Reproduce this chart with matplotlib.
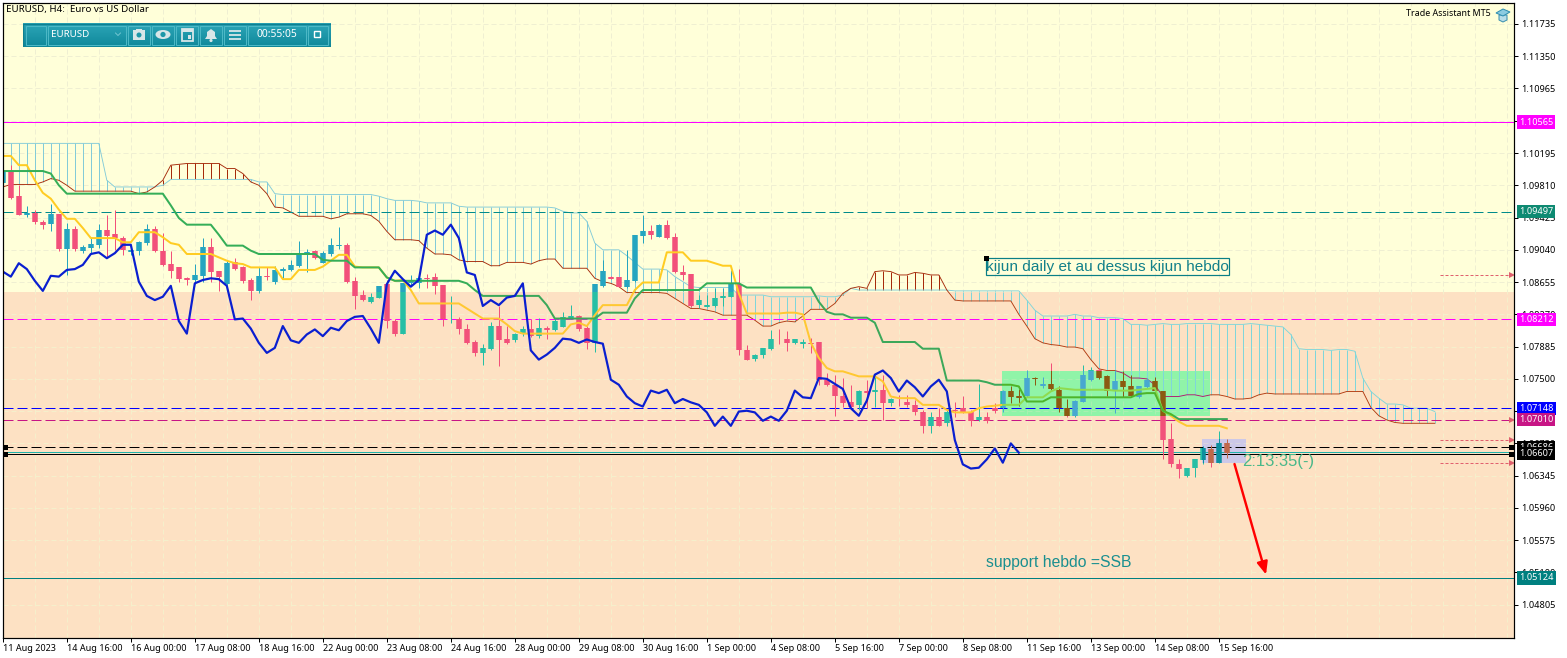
import matplotlib
matplotlib.use('Agg')
import numpy as np
import matplotlib.pyplot as plt
from matplotlib.patches import Rectangle, Circle, Ellipse, Polygon
from matplotlib.transforms import Affine2D, blended_transform_factory

# candles, one per 4h bar
open_ = [1.0984,1.0997,1.0968,1.0945,1.0948,1.0937,1.0935,1.0947,1.0905,1.0929,
         1.0903,1.0906,1.0910,1.0928,1.0923,1.0918,1.0901,1.0903,1.0912,1.0929,
         1.0903,1.0887,1.0883,1.0870,1.0868,1.0873,1.0907,1.0879,1.0863,1.0890,
         1.0883,1.0868,1.0855,1.0873,1.0865,1.0879,1.0880,1.0885,1.0899,1.0903,
         1.0888,1.0899,1.0909,1.0910,1.0867,1.0850,1.0842,1.0847,1.0863,1.0819,
         1.0804,1.0864,1.0864,1.0870,1.0871,1.0862,1.0821,1.0821,1.0809,1.0794,
         1.0781,1.0786,1.0813,1.0797,1.0796,1.0803,1.0809,1.0801,1.0811,1.0808,
         1.0812,1.0822,1.0825,1.0811,1.0793,1.0861,1.0872,1.0871,1.0860,1.0867,
         1.0921,1.0927,1.0919,1.0934,1.0919,1.0878,1.0875,1.0838,1.0836,1.0837,
         1.0846,1.0848,1.0863,1.0785,1.0774,1.0778,1.0786,1.0798,1.0798,1.0793,
         1.0792,1.0793,1.0794,1.0749,1.0743,1.0730,1.0722,1.0719,1.0736,1.0734,
         1.0737,1.0721,1.0723,1.0723,1.0719,1.0711,1.0694,1.0705,1.0697,1.0713,
         1.0715,1.0710,1.0701,1.0705,1.0715,1.0715,1.0736,1.0729,1.0729,1.0751,
         1.0741,1.0744,1.0737,1.0715,1.0706,1.0723,1.0749,1.0760,1.0753,1.0737,
         1.0748,1.0741,1.0728,1.0740,1.0748,1.0735,1.0678,1.0649,1.0634,1.0644,
         1.0653,1.0666,1.0650,1.0673]
close = [1.0997,1.0966,1.0946,1.0948,1.0937,1.0934,1.0947,1.0905,1.0929,1.0905,
         1.0907,1.0911,1.0928,1.0921,1.0918,1.0904,1.0904,1.0913,1.0929,1.0902,
         1.0886,1.0879,1.0869,1.0868,1.0874,1.0907,1.0878,1.0872,1.0888,1.0881,
         1.0867,1.0855,1.0873,1.0872,1.0880,1.0881,1.0886,1.0899,1.0901,1.0894,
         1.0900,1.0910,1.0910,1.0866,1.0849,1.0844,1.0848,1.0861,1.0819,1.0804,
         1.0864,1.0868,1.0870,1.0869,1.0861,1.0821,1.0822,1.0810,1.0793,1.0781,
         1.0787,1.0813,1.0796,1.0793,1.0803,1.0809,1.0801,1.0811,1.0808,1.0819,
         1.0824,1.0825,1.0810,1.0793,1.0863,1.0879,1.0869,1.0860,1.0868,1.0922,
         1.0927,1.0922,1.0934,1.0918,1.0877,1.0874,1.0837,1.0844,1.0838,1.0847,
         1.0849,1.0864,1.0784,1.0773,1.0779,1.0787,1.0798,1.0797,1.0793,1.0797,
         1.0794,1.0792,1.0749,1.0743,1.0729,1.0721,1.0717,1.0736,1.0733,1.0737,
         1.0721,1.0726,1.0722,1.0719,1.0710,1.0694,1.0705,1.0694,1.0711,1.0712,
         1.0710,1.0700,1.0705,1.0700,1.0712,1.0736,1.0728,1.0727,1.0751,1.0750,
         1.0744,1.0738,1.0715,1.0706,1.0724,1.0755,1.0760,1.0751,1.0735,1.0748,
         1.0740,1.0729,1.0741,1.0749,1.0735,1.0677,1.0648,1.0643,1.0644,1.0654,
         1.0667,1.0650,1.0673,1.0662]
high = [1.0999,1.1005,1.0981,1.0956,1.0951,1.0940,1.0959,1.0947,1.0936,1.0932,
        1.0910,1.0918,1.0935,1.0946,1.0952,1.0920,1.0910,1.0914,1.0935,1.0932,
        1.0924,1.0902,1.0884,1.0872,1.0887,1.0918,1.0918,1.0879,1.0892,1.0894,
        1.0885,1.0870,1.0883,1.0884,1.0885,1.0884,1.0892,1.0915,1.0905,1.0904,
        1.0902,1.0918,1.0931,1.0912,1.0872,1.0856,1.0853,1.0861,1.0868,1.0821,
        1.0864,1.0874,1.0870,1.0875,1.0876,1.0862,1.0849,1.0824,1.0816,1.0796,
        1.0792,1.0818,1.0837,1.0813,1.0805,1.0813,1.0821,1.0823,1.0813,1.0823,
        1.0830,1.0838,1.0826,1.0813,1.0863,1.0892,1.0873,1.0871,1.0904,1.0922,
        1.0946,1.0934,1.0935,1.0940,1.0924,1.0886,1.0875,1.0850,1.0850,1.0859,
        1.0858,1.0880,1.0881,1.0790,1.0780,1.0787,1.0808,1.0809,1.0807,1.0798,
        1.0797,1.0799,1.0794,1.0757,1.0755,1.0751,1.0743,1.0737,1.0749,1.0755,
        1.0755,1.0727,1.0731,1.0731,1.0725,1.0713,1.0710,1.0715,1.0714,1.0723,
        1.0729,1.0713,1.0744,1.0710,1.0721,1.0737,1.0741,1.0738,1.0760,1.0752,
        1.0752,1.0769,1.0742,1.0726,1.0725,1.0766,1.0764,1.0763,1.0755,1.0760,
        1.0759,1.0755,1.0742,1.0751,1.0752,1.0735,1.0697,1.0654,1.0644,1.0654,
        1.0670,1.0671,1.0688,1.0678]
low = [1.0983,1.0965,1.0946,1.0943,1.0935,1.0929,1.0926,1.0902,1.0874,1.0902,
       1.0900,1.0900,1.0906,1.0896,1.0904,1.0898,1.0898,1.0898,1.0910,1.0901,
       1.0885,1.0870,1.0866,1.0862,1.0863,1.0866,1.0866,1.0855,1.0862,1.0880,
       1.0864,1.0844,1.0852,1.0868,1.0863,1.0870,1.0879,1.0884,1.0878,1.0893,
       1.0888,1.0897,1.0905,1.0864,1.0833,1.0843,1.0841,1.0846,1.0811,1.0801,
       1.0804,1.0862,1.0858,1.0858,1.0851,1.0813,1.0817,1.0804,1.0792,1.0777,
       1.0766,1.0785,1.0765,1.0792,1.0794,1.0801,1.0800,1.0799,1.0798,1.0807,
       1.0812,1.0821,1.0807,1.0786,1.0782,1.0860,1.0869,1.0860,1.0858,1.0866,
       1.0912,1.0917,1.0919,1.0917,1.0876,1.0868,1.0836,1.0835,1.0836,1.0836,
       1.0837,1.0848,1.0779,1.0772,1.0771,1.0775,1.0785,1.0792,1.0783,1.0792,
       1.0787,1.0781,1.0743,1.0742,1.0706,1.0717,1.0715,1.0713,1.0715,1.0717,
       1.0701,1.0718,1.0718,1.0717,1.0707,1.0686,1.0686,1.0694,1.0694,1.0705,
       1.0709,1.0694,1.0700,1.0697,1.0709,1.0711,1.0721,1.0718,1.0728,1.0743,
       1.0739,1.0737,1.0711,1.0705,1.0705,1.0722,1.0748,1.0750,1.0730,1.0709,
       1.0728,1.0728,1.0727,1.0739,1.0734,1.0654,1.0645,1.0632,1.0633,1.0633,
       1.0648,1.0645,1.0650,1.0656]

# ichimoku lines
kijun = [1.0998,1.0998,1.0998,1.0998,1.0998,1.0998,1.0995,1.0981,1.0971,1.0971,
         1.0971,1.0971,1.0971,1.0971,1.0971,1.0971,1.0971,1.0971,1.0971,1.0971,
         1.0971,1.0957,1.0942,1.0934,1.0934,1.0934,1.0934,1.0922,1.0909,1.0909,
         1.0909,1.0903,1.0899,1.0899,1.0899,1.0899,1.0899,1.0899,1.0899,1.0899,
         1.0892,1.0891,1.0891,1.0891,1.0883,1.0883,1.0883,1.0883,1.0871,1.0867,
         1.0867,1.0867,1.0867,1.0867,1.0867,1.0867,1.0867,1.0867,1.0864,1.0856,
         1.0849,1.0849,1.0849,1.0849,1.0849,1.0849,1.0849,1.0849,1.0838,1.0822,
         1.0822,1.0822,1.0822,1.0822,1.0822,1.0829,1.0829,1.0829,1.0829,1.0846,
         1.0856,1.0856,1.0856,1.0856,1.0856,1.0856,1.0856,1.0856,1.0864,1.0864,
         1.0864,1.0864,1.0864,1.0859,1.0859,1.0859,1.0859,1.0859,1.0859,1.0859,
         1.0859,1.0859,1.0842,1.0830,1.0827,1.0827,1.0823,1.0823,1.0823,1.0817,
         1.0794,1.0794,1.0794,1.0794,1.0794,1.0786,1.0786,1.0786,1.0748,1.0748,
         1.0748,1.0748,1.0748,1.0746,1.0743,1.0743,1.0743,1.0741,1.0723,1.0723,
         1.0723,1.0728,1.0728,1.0728,1.0728,1.0728,1.0728,1.0728,1.0728,1.0728,
         1.0728,1.0728,1.0732,1.0733,1.0733,1.0712,1.0708,1.0702,1.0702,1.0702,
         1.0702,1.0702,1.0702,1.0702]
tenkan = [1.1016,1.1016,1.1005,1.1005,1.0987,1.0972,1.0965,1.0952,1.0941,1.0941,
          1.0930,1.0918,1.0918,1.0918,1.0918,1.0913,1.0913,1.0925,1.0925,1.0925,
          1.0919,1.0912,1.0910,1.0899,1.0899,1.0899,1.0899,1.0895,1.0891,1.0888,
          1.0887,1.0883,1.0883,1.0883,1.0883,1.0869,1.0869,1.0880,1.0880,1.0880,
          1.0884,1.0891,1.0898,1.0898,1.0884,1.0883,1.0883,1.0883,1.0871,1.0867,
          1.0868,1.0856,1.0840,1.0840,1.0840,1.0840,1.0840,1.0840,1.0834,1.0828,
          1.0822,1.0822,1.0822,1.0815,1.0807,1.0804,1.0804,1.0804,1.0804,1.0804,
          1.0804,1.0815,1.0817,1.0813,1.0826,1.0838,1.0838,1.0838,1.0838,1.0856,
          1.0865,1.0865,1.0865,1.0901,1.0901,1.0901,1.0891,1.0891,1.0891,1.0888,
          1.0885,1.0885,1.0852,1.0828,1.0828,1.0828,1.0828,1.0828,1.0829,1.0829,
          1.0827,1.0793,1.0775,1.0763,1.0759,1.0759,1.0756,1.0753,1.0753,1.0753,
          1.0747,1.0729,1.0727,1.0727,1.0727,1.0719,1.0719,1.0719,1.0713,1.0710,
          1.0710,1.0710,1.0715,1.0717,1.0718,1.0719,1.0719,1.0719,1.0728,1.0728,
          1.0728,1.0735,1.0739,1.0738,1.0737,1.0737,1.0737,1.0737,1.0737,1.0736,
          1.0736,1.0736,1.0737,1.0738,1.0739,1.0712,1.0706,1.0699,1.0694,1.0694,
          1.0694,1.0694,1.0694,1.0691]
span_a = [1.1031,1.1031,1.1031,1.1031,1.1031,1.1031,1.1031,1.1031,1.1031,1.1031,
          1.1031,1.1031,1.1031,1.0987,1.0979,1.0979,1.0979,1.0979,1.0979,1.0979,
          1.0981,1.0988,1.0988,1.0988,1.0988,1.0988,1.0988,1.0988,1.0988,1.0988,
          1.0988,1.0988,1.0985,1.0985,1.0971,1.0970,1.0970,1.0970,1.0970,1.0970,
          1.0970,1.0970,1.0970,1.0970,1.0970,1.0970,1.0970,1.0968,1.0965,1.0963,
          1.0963,1.0963,1.0962,1.0960,1.0960,1.0960,1.0960,1.0956,1.0955,1.0955,
          1.0955,1.0955,1.0955,1.0955,1.0955,1.0955,1.0955,1.0955,1.0955,1.0954,
          1.0950,1.0948,1.0948,1.0938,1.0912,1.0904,1.0904,1.0904,1.0897,1.0889,
          1.0881,1.0881,1.0881,1.0880,1.0872,1.0866,1.0860,1.0859,1.0859,1.0859,
          1.0859,1.0859,1.0850,1.0850,1.0850,1.0850,1.0848,1.0848,1.0848,1.0848,
          1.0848,1.0848,1.0849,1.0848,1.0848,1.0850,1.0858,1.0856,1.0856,1.0856,
          1.0856,1.0856,1.0856,1.0856,1.0856,1.0856,1.0856,1.0856,1.0856,1.0855,
          1.0855,1.0855,1.0855,1.0855,1.0855,1.0855,1.0855,1.0855,1.0844,1.0832,
          1.0825,1.0825,1.0825,1.0825,1.0827,1.0825,1.0825,1.0823,1.0823,1.0823,
          1.0822,1.0815,1.0815,1.0814,1.0815,1.0816,1.0815,1.0815,1.0816,1.0816,
          1.0816,1.0816,1.0815,1.0815,1.0815,1.0815,1.0816,1.0815,1.0814,1.0813,
          1.0812,1.0803,1.0786,1.0785,1.0785,1.0785,1.0784,1.0785,1.0785,1.0783,
          1.0751,1.0735,1.0727,1.0720,1.0720,1.0719,1.0715,1.0715,1.0715,1.0711]
span_b = [1.0979,1.0982,1.0982,1.0982,1.0982,1.0985,1.0989,1.0987,1.0981,1.0974,
          1.0974,1.0974,1.0974,1.0974,1.0974,1.0974,1.0974,1.0971,1.0973,1.0979,
          1.0987,1.1005,1.1006,1.1007,1.1007,1.1007,1.1007,1.1007,1.1001,1.1001,
          1.0995,1.0985,1.0981,1.0971,1.0955,1.0954,1.0949,1.0944,1.0944,1.0944,
          1.0944,1.0941,1.0943,1.0947,1.0947,1.0947,1.0945,1.0938,1.0926,1.0916,
          1.0916,1.0916,1.0915,1.0906,1.0899,1.0899,1.0898,1.0892,1.0890,1.0890,
          1.0890,1.0885,1.0885,1.0889,1.0889,1.0889,1.0887,1.0891,1.0893,1.0893,
          1.0882,1.0882,1.0882,1.0882,1.0870,1.0866,1.0864,1.0860,1.0853,1.0853,
          1.0853,1.0853,1.0853,1.0852,1.0846,1.0840,1.0834,1.0834,1.0832,1.0830,
          1.0826,1.0826,1.0826,1.0826,1.0820,1.0813,1.0813,1.0817,1.0819,1.0818,
          1.0825,1.0833,1.0833,1.0833,1.0840,1.0852,1.0858,1.0860,1.0858,1.0878,
          1.0879,1.0878,1.0874,1.0874,1.0877,1.0876,1.0874,1.0874,1.0856,1.0844,
          1.0843,1.0843,1.0843,1.0843,1.0843,1.0843,1.0843,1.0827,1.0813,1.0798,
          1.0793,1.0791,1.0790,1.0788,1.0788,1.0786,1.0773,1.0762,1.0760,1.0760,
          1.0757,1.0751,1.0751,1.0750,1.0743,1.0729,1.0729,1.0729,1.0731,1.0731,
          1.0729,1.0731,1.0731,1.0729,1.0726,1.0726,1.0727,1.0731,1.0733,1.0732,
          1.0732,1.0732,1.0732,1.0732,1.0732,1.0732,1.0732,1.0732,1.0735,1.0735,
          1.0735,1.0716,1.0706,1.0701,1.0698,1.0697,1.0697,1.0697,1.0697,1.0697]

# chikou is the close plotted 26 bars back
chikou = close[26:]

# horizontal levels
level_prices = [1.10565, 1.09497, 1.08212, 1.07148, 1.07010, 1.06686, 1.06622, 1.06607, 1.05124]
level_colors = ['#FF00FF', '#008B8B', '#FF00FF', '#0000FF', '#C71585', '#000000', '#20B2AA', '#000000', '#008080']
level_dashed = [False, True, True, True, True, True, False, False, False]

boxed_prices = [1.10565, 1.09497, 1.08212, 1.07148, 1.07010, 1.06686, 1.06607, 1.05124]
boxed_labels = ['1.10565', '1.09497', '1.08212', '1.07148', '1.07010', '1.06686', '1.06607', '1.05124']
boxed_colors = ['#FF00FF', '#0E8A72', '#FF00FF', '#0000FF', '#C71585', '#000000', '#000000', '#008080']

price_ticks = [1.11735, 1.11350, 1.10965, 1.10580, 1.10195, 1.09810, 1.09425, 1.09040, 1.08655, 1.08270,
               1.07885, 1.07500, 1.07115, 1.06730, 1.06345, 1.05960, 1.05575, 1.05190, 1.04805]
hidden_ticks = [1.10580, 1.07115]  # fully behind a level box in the reference
date_labels = ['11 Aug 2023', '14 Aug 16:00', '16 Aug 00:00', '17 Aug 08:00', '18 Aug 16:00',
               '22 Aug 00:00', '23 Aug 08:00', '24 Aug 16:00', '28 Aug 00:00', '29 Aug 08:00',
               '30 Aug 16:00', '1 Sep 00:00', '4 Sep 08:00', '5 Sep 16:00', '7 Sep 00:00',
               '8 Sep 08:00', '11 Sep 16:00', '13 Sep 00:00', '14 Sep 08:00', '15 Sep 16:00']
marker_prices = [1.0874, 1.07010, 1.06771, 1.06496]

plt.rcParams['lines.scale_dashes'] = False
UI_FONT = 'Noto Sans'
PX = 0.72  # one pixel in points at dpi 100

fig = plt.figure(figsize=(15.67, 6.58), dpi=100, facecolor='white')
ax = fig.add_axes([2.5/1567, 1-637.5/658, 1512/1567, 635/658])
xmin, xmax = -0.04, 188.96
ymin, ymax = 1.04414, 1.11991
ax.set_xlim(xmin, xmax)
ax.set_ylim(ymin, ymax)
ax.set_facecolor('#FFFFD9')

x = np.arange(len(close))
o, c, h, l = map(np.array, (open_, close, high, low))
cloud_x = np.arange(len(span_a))
a, b = np.array(span_a), np.array(span_b)
cloud_lo, cloud_hi = np.minimum(a, b), np.maximum(a, b)
peach_top = 1.08537

# The platform blends its rectangles with whatever is under them, so each
# zone is filled and the whole chart is redrawn clipped to it with its own colours.
zones = [
    dict(box=(xmin, peach_top, xmax, ymax), fill='#FFFFD9', grid='#EFEFD2', bull='#25A5C0', bear='#F2507A',
         kijun='#35AE58', tenkan='#FFCC22', cloud_up='#83CBD8', cloud_dn='#A52A0A'),
    dict(box=(xmin, ymin, xmax, peach_top), fill='#FDE1C3', grid='#F5EFCB', bull='#26BFA5', bear='#F2507A',
         kijun='#3CA85A', tenkan='#FFC832', cloud_up='#7FD6DA', cloud_dn='#B03A10'),
    dict(box=(124.96, 1.07057, 150.96, 1.07594), fill='#90F4A8', grid='#A8F0B0', bull='#48A8D0', bear='#8B5A10',
         kijun='#4DB52A', tenkan='#8FDB4F', cloud_up='#7FD6DA', cloud_dn='#B01870'),
    dict(box=(149.96, 1.06493, 155.46, 1.06783), fill='#CCC8E8', grid='#D8D4E0', bull='#0C8F9F', bear='#C0684A',
         kijun='#3CA85A', tenkan='#FFC832', cloud_up='#7FD6DA', cloud_dn='#B03A10'),
]

grid_x = np.arange(0, 189, 4)
dash = (0, (5*PX, 3*PX))
for k, z in enumerate(zones):
    base = 1 + k
    x0, y0, x1, y1 = z['box']
    clip = Rectangle((x0, y0), x1-x0, y1-y0, facecolor=z['fill'], edgecolor='none', zorder=base)
    ax.add_patch(clip)
    arts = []
    arts.append(ax.hlines(price_ticks, xmin, xmax, colors=z['grid'], linewidth=PX, linestyles=[dash], zorder=base+.01))
    arts.append(ax.vlines(grid_x, ymin, ymax, colors=z['grid'], linewidth=PX, linestyles=[dash], zorder=base+.01))
    # cloud hatch, cut to this zone by hand
    lo, hi = np.clip(cloud_lo, y0, y1), np.clip(cloud_hi, y0, y1)
    inside = (cloud_x >= x0) & (cloud_x <= x1) & (hi > lo)
    up = inside & (a >= b)
    dn = inside & (a < b)
    ax.vlines(cloud_x[up], lo[up], hi[up], colors=z['cloud_up'], linewidth=PX, zorder=base+.02)
    ax.vlines(cloud_x[dn], lo[dn], hi[dn], colors=z['cloud_dn'], linewidth=PX, zorder=base+.02)
    arts += ax.plot(cloud_x, a, color=z['cloud_up'], lw=PX*.9, zorder=base+.03)
    arts += ax.plot(cloud_x, b, color=z['cloud_dn'], lw=PX*.9, zorder=base+.03)
    # levels
    for p, col, d in zip(level_prices, level_colors, level_dashed):
        ls = (0, (10*PX, 4*PX)) if d else 'solid'
        arts.append(ax.hlines(p, xmin, xmax, colors=col, linewidth=PX, linestyles=[ls], zorder=base+.04))
    # candles
    for mask, col in ((c >= o, z['bull']), (c < o, z['bear'])):
        arts.append(ax.vlines(x[mask], l[mask], h[mask], colors=col, linewidth=PX, zorder=base+.05))
        arts.append(ax.vlines(x[mask], np.minimum(o, c)[mask], np.maximum(o, c)[mask], colors=col,
                              linewidth=PX*5.5, capstyle='butt', zorder=base+.06))
    # indicator lines
    arts += ax.plot(x, tenkan, color=z['tenkan'], lw=PX*2, zorder=base+.07, solid_joinstyle='round')
    arts += ax.plot(x, kijun, color=z['kijun'], lw=PX*2, zorder=base+.08, solid_joinstyle='round')
    arts += ax.plot(np.arange(len(chikou)), chikou, color='#0A1FD0', lw=PX*2.2, zorder=base+.09, solid_joinstyle='round')
    for art in arts:
        art.set_clip_path(clip)

# small red level markers on the right
for p, start in zip(marker_prices, [179.6, None, 179.6, 179.6]):
    if start is not None:
        ax.hlines(p, start, 188.4, colors='#E0606E', linewidth=PX, linestyles=[(0, (3*PX, 2*PX))], zorder=6)
    ax.plot([188.6], [p], marker='>', color='#E0606E', ms=4.5, mew=0, zorder=6, clip_on=True)

# arrow to the weekly support
ax.annotate('', xy=(157.9, 1.05165), xytext=(153.96, 1.06484),
            arrowprops=dict(arrowstyle='-|>,head_width=0.32,head_length=0.75', color='#FF0000', lw=PX*2.4,
                            shrinkA=0, shrinkB=0), zorder=7)

px_tr = Affine2D().scale(1, -1).translate(0, 658)
right_tr = blended_transform_factory(px_tr, ax.transData)

# drawn notes
ax.text(986, 266.5, 'kijun daily et au dessus kijun hebdo', transform=px_tr, family='Liberation Sans', fontsize=11.05,
        color='#12808A', va='center', ha='left', zorder=8)
ax.add_patch(Rectangle((985.5, 258), 243, 17, transform=px_tr, fill=False, edgecolor='#0A7F86', linewidth=PX*1.2, zorder=8))
ax.add_patch(Rectangle((984, 255.5), 5, 5, transform=px_tr, facecolor='black', edgecolor='none', zorder=8))
ax.text(986, 562, 'support hebdo =SSB', transform=px_tr, family='Liberation Sans', fontsize=11.35,
        color='#1A8F8F', va='center', ha='left', zorder=8)
ax.text(1242, 461.5, '2:13:35(-)', transform=px_tr, family='Liberation Sans', fontsize=12,
        color='#4AB88A', va='center', ha='left', zorder=8)
ax.text(6, 9.5, 'EURUSD, H4:  Euro vs US Dollar', transform=px_tr, family=UI_FONT, fontsize=7,
        color='black', va='center', ha='left', zorder=8)
ax.text(1491, 14, 'Trade Assistant MT5', transform=px_tr, family=UI_FONT, fontsize=6.4,
        color='black', va='center', ha='right', zorder=8)

# mortarboard icon
ax.add_patch(Polygon([(1499, 15), (1507, 15), (1507, 20), (1503, 22), (1499, 20)], transform=px_tr,
                     facecolor='#B8DDE8', edgecolor='#3A8FB0', linewidth=PX, zorder=8))
ax.add_patch(Polygon([(1496, 13), (1503, 9), (1510, 12), (1503, 16)], transform=px_tr,
                     facecolor='#8CCBE0', edgecolor='#2D8DB0', linewidth=PX, zorder=8))

# black anchors where the two current price lines meet the frame
for row in (447, 454):
    ax.add_patch(Rectangle((2.5, row-2.5), 5, 5, transform=px_tr, facecolor='black', edgecolor='none', zorder=9))
    ax.add_patch(Rectangle((1509, row-2.5), 5.5, 5, transform=px_tr, facecolor='black', edgecolor='none', zorder=9))

# axes and labels
ax.yaxis.tick_right()
ax.set_yticks(price_ticks)
ax.set_yticklabels(['' if p in hidden_ticks else f'{p:.5f}' for p in price_ticks], family=UI_FONT, fontsize=6.6)
ax.tick_params(axis='y', length=3, width=PX, pad=1.5, color='black')
ax.set_xticks(np.arange(0, 8*len(date_labels), 8))
ax.set_xticklabels(date_labels, family=UI_FONT, fontsize=6.5, ha='left')
ax.tick_params(axis='x', length=3, width=PX, pad=1.5, color='black')
for side in ax.spines.values():
    side.set_linewidth(PX*1.2)
    side.set_color('black')
    side.set_zorder(20)

for p, lab, col in zip(boxed_prices, boxed_labels, boxed_colors):
    ax.text(1519, p, lab, transform=right_tr, family=UI_FONT, fontsize=6.6, color='white', va='center', ha='left',
            clip_on=False, zorder=30,
            bbox=dict(boxstyle='square,pad=0.22', facecolor=col, edgecolor='none'))

# toolbar, in its own little axes measured in pixels
tb = fig.add_axes([23/1567, 1-47/658, 308/1567, 24/658], zorder=10)
tb.set_xlim(23, 331)
tb.set_ylim(47, 23)
tb.axis('off')
bar_top = np.array([0x2C, 0xA6, 0xB8])/255
bar_bot = np.array([0x10, 0x88, 0x9A])/255
grad = np.linspace(0, 1, 24)[:, None, None]
tb.imshow(bar_top + (bar_bot-bar_top)*grad, extent=(23, 331, 47, 23), aspect='auto', interpolation='bilinear')
for bx0, bx1 in [(26, 46), (48, 126), (128, 150), (152, 174), (176, 198), (200, 222), (224, 246), (248, 306), (308, 328)]:
    tb.add_patch(Rectangle((bx0, 25.5), bx1-bx0, 19, fill=False, edgecolor='#4CB8C6', linewidth=PX))
tb.add_patch(Rectangle((23.5, 23.5), 307, 23, fill=False, edgecolor='#0E7F90', linewidth=PX*1.4))
tb.text(51, 34.5, 'EURUSD', family=UI_FONT, fontsize=7, color='white', va='center', ha='left')
tb.text(276.5, 34.5, '00:55:05', family=UI_FONT, fontsize=7.4, color='white', va='center', ha='center')
tb.plot([115.5, 118, 120.5], [33, 35.5, 33], color='#6FC4D0', lw=PX)
icon = '#D8E6E8'
# camera
tb.add_patch(Rectangle((133, 30), 12, 10, facecolor=icon, edgecolor='none'))
tb.add_patch(Rectangle((136, 28.5), 6, 2, facecolor=icon, edgecolor='none'))
tb.add_patch(Circle((139, 35), 2.5, facecolor='#1E97A8', edgecolor='none'))
# eye
tb.add_patch(Ellipse((163, 34.5), 15, 9, facecolor=icon, edgecolor='none'))
tb.add_patch(Circle((163, 34.5), 2.6, facecolor='#1E97A8', edgecolor='none'))
# calendar
tb.add_patch(Rectangle((182, 29), 11, 12, facecolor='none', edgecolor=icon, linewidth=PX*1.8))
tb.add_patch(Rectangle((182, 29), 11, 3, facecolor=icon, edgecolor='none'))
tb.add_patch(Rectangle((187.5, 35), 3.5, 3.5, facecolor=icon, edgecolor='none'))
# bell
tb.add_patch(Polygon([(205, 39), (207, 36), (207, 32), (211, 29), (215, 32), (215, 36), (217, 39)], facecolor=icon, edgecolor='none'))
tb.add_patch(Circle((211, 40.5), 1.6, facecolor=icon, edgecolor='none'))
# menu
for row in (31, 35, 39):
    tb.plot([229, 241], [row, row], color=icon, lw=PX*1.8, solid_capstyle='butt')
# restore button
tb.add_patch(Rectangle((314, 31), 6, 6, facecolor='none', edgecolor='white', linewidth=PX*1.4))
tb.set_xlim(23, 331)
tb.set_ylim(47, 23)

fig.savefig('out.png', dpi=100, facecolor='white')

# the hatch looked dark in the preview, so read the real pixels back
im = plt.imread('out.png')
row = (im[225, 476:492, :3]*255).astype(int)
if not any(px[2] > px[0] + 25 for px in row):
    raise SystemExit('hatch pixels: ' + str(row.tolist()))
